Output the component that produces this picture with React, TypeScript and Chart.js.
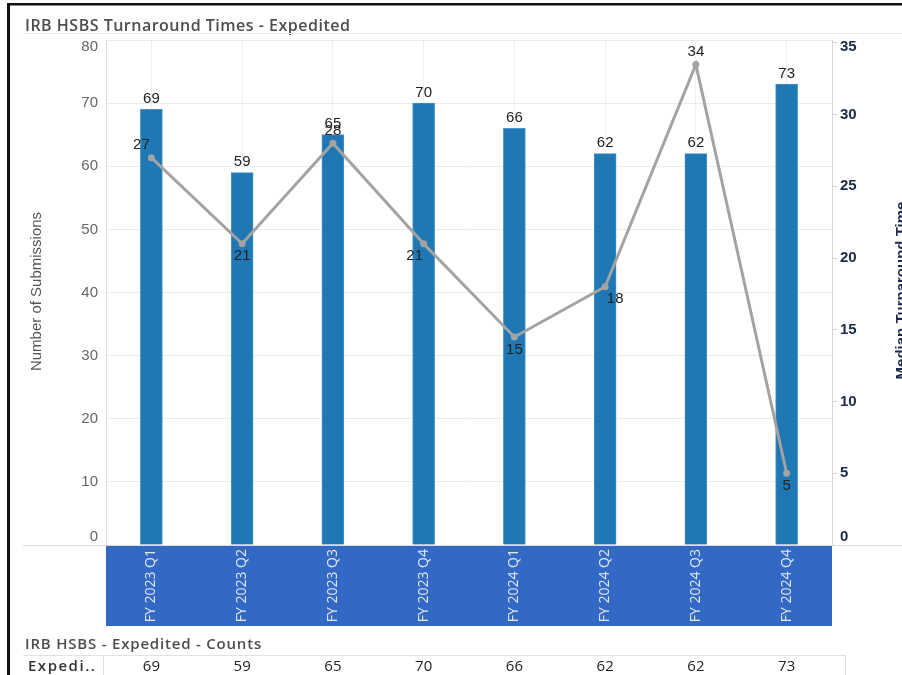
import React, { useEffect, useRef } from "react";
import { Chart, registerables } from "chart.js";

Chart.register(...registerables);

const categories = [
  "FY 2023 Q1",
  "FY 2023 Q2",
  "FY 2023 Q3",
  "FY 2023 Q4",
  "FY 2024 Q1",
  "FY 2024 Q2",
  "FY 2024 Q3",
  "FY 2024 Q4",
];
const submissions = [69, 59, 65, 70, 66, 62, 62, 73];
const medianDays = [27, 21, 28, 21, 14.5, 18, 33.5, 5];

const chartTitle = "IRB HSBS Turnaround Times - Expedited";
const tableTitle = "IRB HSBS - Expedited - Counts";
const tableRowLabel = "Expedi..";
const leftAxisTitle = "Number of Submissions";
const rightAxisTitle = "Median Turnaround Time";

const leftMax = 80;
const leftStep = 10;
const rightMax = 35.2;
const rightTicks = [0, 5, 10, 15, 20, 25, 30, 35];

const W = 902;
const H = 675;

function clampY(v: number, a: any) {
  return Math.min(Math.max(v, a.top + 7), a.bottom - 8);
}

const decorPlugin = {
  id: "decor",
  beforeDraw(chart: any) {
    const ctx = chart.ctx;
    const a = chart.chartArea;
    ctx.save();
    ctx.fillStyle = "#ffffff";
    ctx.fillRect(0, 0, W, H);
    // frame
    ctx.fillStyle = "#111111";
    ctx.fillRect(7, 3, 3, H);
    ctx.fillRect(7, 3, W, 2.5);
    // title
    ctx.fillStyle = "#4d4d4d";
    ctx.font = "600 16px 'Open Sans'";
    (ctx as any).letterSpacing = "0.5px";
    ctx.textAlign = "left";
    ctx.textBaseline = "middle";
    ctx.fillText(chartTitle, 25, 26);
    (ctx as any).letterSpacing = "0px";
    // separator under title
    ctx.fillStyle = "#e8e8e8";
    ctx.fillRect(23, 33, W, 1);
    // blue axis band
    ctx.fillStyle = "#3369c4";
    ctx.fillRect(a.left, a.bottom + 1, a.right - a.left, 80);
    ctx.restore();
  },
  afterDraw(chart: any) {
    const ctx = chart.ctx;
    const a = chart.chartArea;
    ctx.save();
    // baseline
    ctx.fillStyle = "#dcdcdc";
    ctx.fillRect(23, a.bottom, W, 1);

    // axis tick labels
    const yS = chart.scales.y;
    ctx.fillStyle = "#666666";
    ctx.font = "15px Arial, 'Liberation Sans'";
    ctx.textAlign = "right";
    ctx.textBaseline = "middle";
    yS.ticks.forEach((t: any) => {
      ctx.fillText(String(t.value), 98, clampY(yS.getPixelForValue(t.value), a));
    });
    const y1S = chart.scales.y1;
    ctx.fillStyle = "#1b2a4a";
    ctx.font = "bold 15px Arial, 'Liberation Sans'";
    ctx.textAlign = "left";
    y1S.ticks.forEach((t: any) => {
      ctx.fillText(String(t.value), a.right + 8, clampY(y1S.getPixelForValue(t.value), a));
    });

    // bar labels
    ctx.fillStyle = "#222222";
    ctx.font = "15px Arial, 'Liberation Sans'";
    ctx.textAlign = "center";
    const barMeta = chart.getDatasetMeta(1);
    barMeta.data.forEach((el: any, i: number) => {
      ctx.textBaseline = "bottom";
      ctx.fillText(String(submissions[i]), el.x, el.y - 3);
    });
    // line labels
    const lineMeta = chart.getDatasetMeta(0);
    lineMeta.data.forEach((el: any, i: number) => {
      const cur = medianDays[i];
      const prev = medianDays[i - 1];
      const next = medianDays[i + 1];
      const peak =
        (prev === undefined || cur > prev) && (next === undefined || cur > next);
      let dx = 0;
      if (prev === undefined && next !== undefined && cur > next) dx = -10;
      if (prev !== undefined && next !== undefined) {
        if (prev > cur && cur > next) dx = -9;
        if (prev < cur && cur < next) dx = 10;
      }
      const label = String(Math.round(cur));
      if (peak) {
        ctx.textBaseline = "bottom";
        ctx.fillText(label, el.x + dx, el.y - 5);
      } else {
        ctx.textBaseline = "top";
        ctx.fillText(label, el.x + dx, el.y + 5);
      }
    });

    // axis titles
    const midY = (a.top + a.bottom) / 2;
    ctx.save();
    ctx.translate(37, midY - 1);
    ctx.rotate(-Math.PI / 2);
    ctx.fillStyle = "#555555";
    ctx.font = "15px Arial, 'Liberation Sans'";
    ctx.textAlign = "center";
    ctx.textBaseline = "middle";
    ctx.fillText(leftAxisTitle, 0, 0);
    ctx.restore();

    ctx.save();
    ctx.translate(902, midY - 2);
    ctx.rotate(-Math.PI / 2);
    ctx.fillStyle = "#1b2a4a";
    ctx.font = "bold 15px Arial, 'Liberation Sans'";
    ctx.textAlign = "center";
    ctx.textBaseline = "middle";
    ctx.fillText(rightAxisTitle, 0, 0);
    ctx.restore();

    // table
    ctx.fillStyle = "#4d4d4d";
    ctx.font = "600 15px 'Open Sans'";
    (ctx as any).letterSpacing = "0.8px";
    ctx.textAlign = "left";
    ctx.textBaseline = "middle";
    ctx.fillText(tableTitle, 25, 645);
    ctx.fillStyle = "#e2e2e2";
    ctx.fillRect(23, 655, 822, 1);
    ctx.fillRect(103, 655, 1, 25);
    ctx.fillRect(845, 655, 1, 25);
    ctx.fillStyle = "#333333";
    ctx.font = "600 15px 'Open Sans'";
    (ctx as any).letterSpacing = "1.5px";
    ctx.fillText(tableRowLabel, 28, 667);
    (ctx as any).letterSpacing = "0px";
    ctx.fillStyle = "#222222";
    ctx.font = "15px 'Open Sans'";
    ctx.textAlign = "center";
    const xScale = chart.scales.x;
    categories.forEach((_c, i) => {
      ctx.fillText(String(submissions[i]), xScale.getPixelForValue(i), 667);
    });
    ctx.restore();
  },
};

export default function App() {
  const ref = useRef<HTMLCanvasElement | null>(null);
  useEffect(() => {
    if (!ref.current) return;
    const chart = new Chart(ref.current, {
      type: "bar",
      data: {
        labels: categories,
        datasets: [
          {
            type: "line",
            label: "Median Turnaround Time",
            data: medianDays,
            yAxisID: "y1",
            borderColor: "#a3a3a3",
            backgroundColor: "#a3a3a3",
            borderWidth: 3,
            pointRadius: 3.5,
            pointBackgroundColor: "#a3a3a3",
            pointBorderWidth: 0,
            tension: 0,
            order: 0,
          } as any,
          {
            type: "bar",
            label: "Number of Submissions",
            data: submissions,
            yAxisID: "y",
            backgroundColor: "#1f77b4",
            borderColor: "#4a92c8",
            borderWidth: 1,
            borderSkipped: "bottom",
            barThickness: 22,
            order: 1,
          } as any,
        ],
      },
      options: {
        responsive: false,
        animation: false,
        devicePixelRatio: 1,
        layout: { padding: { left: 0, right: 0, top: 40, bottom: 49 } },
        plugins: {
          legend: { display: false },
          tooltip: { enabled: false },
          title: { display: false },
        },
        scales: {
          x: {
            offset: true,
            grid: { color: "#efefef", offset: false, drawTicks: false },
            border: { display: false },
            ticks: {
              color: "#e2e9f5",
              font: { family: "'Open Sans'", size: 14 },
              minRotation: 90,
              maxRotation: 90,
              padding: 4,
            },
            afterFit(scale: any) {
              scale.height = 81;
            },
          },
          y: {
            position: "left",
            min: 0,
            max: leftMax,
            grid: { color: "#ececec", drawTicks: false },
            border: { color: "#dcdcdc" },
            ticks: { stepSize: leftStep, display: false },
            afterFit(scale: any) {
              scale.width = 106;
            },
          },
          y1: {
            position: "right",
            min: 0,
            max: rightMax,
            grid: { drawOnChartArea: false, drawTicks: true, tickLength: 5, color: "#d0d0d0" },
            border: { color: "#d5d5d5" },
            ticks: { display: false },
            afterBuildTicks(scale: any) {
              scale.ticks = rightTicks.map((v) => ({ value: v }));
            },
            afterFit(scale: any) {
              scale.width = 70;
            },
          },
        },
      } as any,
      plugins: [decorPlugin],
    });
    return () => chart.destroy();
  }, []);
  return (
    <div style={{ position: "fixed", left: 0, top: 0, width: W, height: H, overflow: "hidden" }}>
      <canvas ref={ref} width={W} height={H} style={{ display: "block" }} />
    </div>
  );
}
